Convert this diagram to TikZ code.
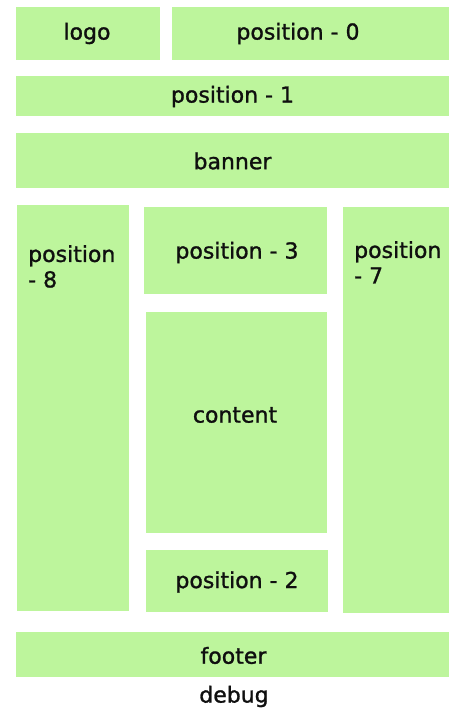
\documentclass[tikz,border=0pt]{standalone}
\usepackage{fontspec}
\setmainfont{DejaVu Sans}[FakeBold=1.5]
\newfontfamily\labelfont{DejaVu Sans}[FakeBold=1.2]
\definecolor{boxgreen}{RGB}{189,245,156}
\definecolor{txt}{RGB}{15,15,15}
\begin{document}
\begin{tikzpicture}[x=1bp,y=-1bp,
  box/.style={fill=boxgreen, draw=none, inner sep=0pt, outer sep=0pt, rectangle},
  lbl/.style={inner sep=0pt, text=txt, font=\labelfont\fontsize{22bp}{25.5bp}\selectfont},
  mlbl/.style={lbl, align=left, anchor=north west}]
\useasboundingbox (0,0) rectangle (449,709);
\fill[white] (0,0) rectangle (449,709);
% boxes: name, center, size
\node[box, minimum width=144bp, minimum height=53bp] (logo) at (88,33.5) {};
\node[box, minimum width=277bp, minimum height=53bp] (pos0) at (310.5,33.5) {};
\node[box, minimum width=433bp, minimum height=40bp] (pos1) at (232.5,96) {};
\node[box, minimum width=433bp, minimum height=55bp] (banner) at (232.5,160.5) {};
\node[box, minimum width=112bp, minimum height=406bp] (pos8) at (73,408) {};
\node[box, minimum width=183bp, minimum height=87bp] (pos3) at (235.5,250.5) {};
\node[box, minimum width=181bp, minimum height=221bp] (content) at (236.5,422.5) {};
\node[box, minimum width=182bp, minimum height=62bp] (pos2) at (237,581) {};
\node[box, minimum width=106bp, minimum height=406bp] (pos7) at (396,410) {};
\node[box, minimum width=433bp, minimum height=45bp] (footer) at (232.5,654.5) {};
% labels
\node[lbl] (tlogo) at (87,33.5) {logo};
\node[lbl] (tpos0) at (298,33.5) {position - 0};
\node[lbl] (tpos1) at (232.5,96.5) {position - 1};
\node[lbl] (tbanner) at (232.5,161) {banner};
\node[lbl] (tpos3) at (237,252.5) {position - 3};
\node[lbl] (tcontent) at (235,415) {content};
\node[lbl] (tpos2) at (237,582) {position - 2};
\node[lbl] (tfooter) at (233.5,655.5) {footer};
\node[lbl] (tdebug) at (234,696.5) {debug};
\node[mlbl] (tpos8) at (28,245) {position\\- 8};
\node[mlbl] (tpos7) at (354,241) {position\\- 7};
\end{tikzpicture}
\end{document}
